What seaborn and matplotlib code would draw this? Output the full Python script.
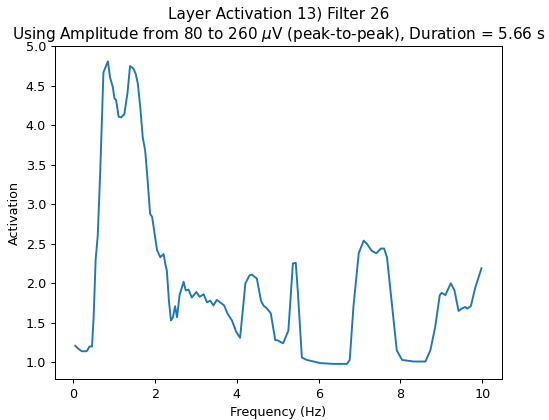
import matplotlib
matplotlib.use("Agg")
import matplotlib.pyplot as plt
import seaborn as sns
import pandas as pd

freq = [0.05, 0.13, 0.21, 0.33, 0.40, 0.46, 0.50, 0.55, 0.60, 0.66, 0.74, 0.85,
        0.90, 0.97, 1.01, 1.05, 1.11, 1.17, 1.25, 1.33, 1.39, 1.47, 1.53, 1.58,
        1.64, 1.70, 1.76, 1.82, 1.88, 1.93, 1.99, 2.05, 2.13, 2.17, 2.21, 2.25,
        2.29, 2.34, 2.39, 2.44, 2.49, 2.54, 2.60, 2.70, 2.75, 2.82, 2.90, 3.01,
        3.09, 3.19, 3.27, 3.35, 3.43, 3.51, 3.59, 3.69, 3.77, 3.88, 3.99, 4.08,
        4.21, 4.31, 4.37, 4.49, 4.59, 4.65, 4.74, 4.83, 4.94, 4.99, 5.13, 5.26,
        5.37, 5.44, 5.49, 5.59, 5.71, 6.04, 6.36, 6.69, 6.76, 6.85, 6.98, 7.10,
        7.18, 7.30, 7.41, 7.52, 7.60, 7.67, 7.79, 7.91, 8.04, 8.32, 8.61, 8.73,
        8.85, 8.96, 9.01, 9.10, 9.15, 9.23, 9.32, 9.42, 9.50, 9.58, 9.63, 9.72,
        9.83, 9.98]
activation = [1.21, 1.17, 1.14, 1.14, 1.20, 1.20, 1.57, 2.30, 2.60, 3.39, 4.67, 4.81,
              4.61, 4.48, 4.34, 4.32, 4.11, 4.10, 4.14, 4.42, 4.75, 4.72, 4.65, 4.53,
              4.23, 3.85, 3.68, 3.30, 2.88, 2.84, 2.63, 2.42, 2.33, 2.35, 2.37, 2.25,
              2.16, 1.78, 1.53, 1.57, 1.71, 1.57, 1.85, 2.02, 1.91, 1.92, 1.82, 1.89,
              1.83, 1.86, 1.76, 1.78, 1.72, 1.79, 1.76, 1.72, 1.62, 1.53, 1.38, 1.31,
              2.00, 2.10, 2.11, 2.06, 1.78, 1.72, 1.68, 1.62, 1.28, 1.28, 1.24, 1.40,
              2.25, 2.26, 1.91, 1.06, 1.03, 0.99, 0.98, 0.98, 1.03, 1.70, 2.38, 2.54,
              2.50, 2.41, 2.38, 2.44, 2.44, 2.33, 1.74, 1.15, 1.03, 1.01, 1.01, 1.15,
              1.45, 1.85, 1.88, 1.85, 1.91, 2.00, 1.91, 1.65, 1.68, 1.70, 1.68, 1.71,
              1.95, 2.19]

title_lines = ["Layer Activation 13) Filter 26",
               r"Using Amplitude from 80 to 260 $\mu$V (peak-to-peak), Duration = 5.66 s"]

df = pd.DataFrame({"Frequency (Hz)": freq, "Activation": activation})

s = 1.27
fig = plt.figure(figsize=(549 / 72, 420 / 72), dpi=72)
ax = fig.add_subplot(111)
fig.subplots_adjust(left=0.100, right=0.914, top=0.890, bottom=0.0976)
sns.lineplot(data=df, x="Frequency (Hz)", y="Activation", ax=ax,
             color="#1f77b4", linewidth=1.5 * s)
ax.set_title("\n".join(title_lines), fontsize=12 * s, pad=6 * s)
ax.set_xlabel("Frequency (Hz)", fontsize=10 * s, labelpad=4 * s)
ax.set_ylabel("Activation", fontsize=10 * s, labelpad=4 * s)
ax.set_xticks([0, 2, 4, 6, 8, 10])
ax.set_yticks([1.0, 1.5, 2.0, 2.5, 3.0, 3.5, 4.0, 4.5, 5.0])
ax.tick_params(labelsize=10 * s, length=3.5 * s, width=0.8 * s, pad=3.5 * s)
for sp in ax.spines.values():
    sp.set_linewidth(0.8 * s)
fig.savefig("out.png", dpi=72)
